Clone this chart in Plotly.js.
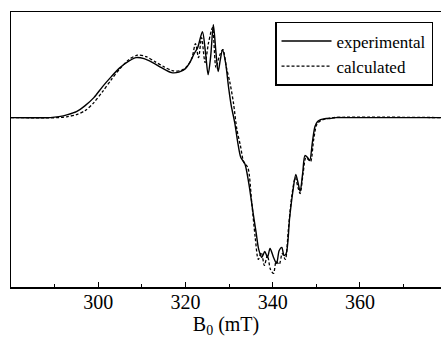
<!DOCTYPE html>
<html>
<head>
<meta charset="utf-8">
<script src="https://cdn.plot.ly/plotly-3.0.1.min.js"></script>
<style>html,body{margin:0;padding:0;background:#fff;}#chart{width:441px;height:338px;}</style>
</head>
<body>
<div id="chart"></div>
<script>
// Field values (mT) and signal (arbitrary units, baseline = 0)
const expField = [280, 289, 291, 293, 295, 297, 299, 301, 303, 305, 307, 308.7, 310.5, 312.5, 314.5, 316.8, 318.5, 320, 321, 322, 322.8, 323.9, 324.6, 325.2, 325.8, 326.4, 327, 327.5, 328, 328.5, 329.2, 329.9, 330.5, 331.3, 332, 332.7, 333.6, 334.5, 335.5, 336.2, 336.8, 337.5, 338.2, 338.8, 339.4, 340.2, 340.9, 341.5, 342.1, 342.6, 343.1, 343.9, 344.6, 345.3, 345.8, 346.3, 346.9, 347.4, 348, 348.5, 349.1, 349.7, 350.3, 351, 352, 353.1, 354.5, 356, 378.6];
const expSignal = [0, 0, 0.01, 0.03, 0.06, 0.12, 0.2, 0.31, 0.41, 0.5, 0.565, 0.60, 0.59, 0.55, 0.5, 0.45, 0.455, 0.49, 0.55, 0.64, 0.70, 0.86, 0.65, 0.43, 0.62, 0.93, 0.65, 0.46, 0.58, 0.68, 0.55, 0.3, 0.12, -0.05, -0.25, -0.40, -0.46, -0.65, -0.95, -1.15, -1.32, -1.40, -1.34, -1.40, -1.31, -1.40, -1.46, -1.33, -1.30, -1.38, -1.36, -1.0, -0.75, -0.57, -0.65, -0.74, -0.55, -0.38, -0.40, -0.43, -0.25, -0.09, -0.04, -0.02, -0.01, -0.01, 0, 0, 0];

const calcField = [280, 291, 293, 295, 297, 299, 301, 303, 305, 307, 309, 311, 313, 315, 317, 319, 320.5, 321.5, 322.3, 323, 323.7, 324.5, 325.3, 326.2, 327, 327.8, 328.6, 329.4, 330.2, 331, 331.8, 332.6, 333.4, 334.3, 335.2, 336, 336.7, 337.4, 338.1, 338.8, 339.5, 340.2, 340.8, 341.5, 342.2, 342.9, 343.6, 344.4, 345.2, 345.8, 346.3, 347, 347.6, 348.2, 348.7, 349.4, 350.1, 351, 352.5, 354, 378.6];
const calcSignal = [0, 0, 0.01, 0.03, 0.07, 0.15, 0.26, 0.38, 0.49, 0.58, 0.625, 0.61, 0.56, 0.51, 0.47, 0.47, 0.52, 0.60, 0.74, 0.60, 0.80, 0.55, 0.75, 0.90, 0.50, 0.62, 0.68, 0.50, 0.35, 0.15, -0.12, -0.28, -0.45, -0.50, -0.85, -1.20, -1.42, -1.35, -1.48, -1.38, -1.52, -1.56, -1.44, -1.47, -1.36, -1.42, -1.12, -0.78, -0.60, -0.70, -0.76, -0.55, -0.40, -0.42, -0.44, -0.22, -0.07, -0.03, -0.01, 0, 0];

const seriesNames = ['experimental', 'calculated'];
const majorTicks = [300, 320, 340, 360];
const minorTicks = [290, 310, 330, 350, 370];

const serif = 'Liberation Serif, Times New Roman, serif';

const traces = [
  {x: expField, y: expSignal, name: seriesNames[0], mode: 'lines',
   line: {color: '#000', width: 1.4, shape: 'spline', smoothing: 0.8}},
  {x: calcField, y: calcSignal, name: seriesNames[1], mode: 'lines',
   line: {color: '#000', width: 1.3, dash: '3px,2px', shape: 'spline', smoothing: 0.8}}
];

const layout = {
  width: 441, height: 338,
  margin: {l: 11, r: 0, t: 12, b: 51},
  paper_bgcolor: '#fff', plot_bgcolor: '#fff',
  font: {family: serif, color: '#000'},
  showlegend: true,
  legend: {x: 0.614, y: 0.964, xanchor: 'left', yanchor: 'top',
           bordercolor: '#000', borderwidth: 1.5, bgcolor: '#fff',
           itemwidth: 50,
           font: {family: serif, size: 17, color: '#000'}, tracegroupgap: 0},
  xaxis: {range: [280, 378.6], showgrid: false, zeroline: false,
          showline: true, linecolor: '#000', linewidth: 1.5, mirror: true,
          ticks: 'inside', ticklen: 5, tickcolor: '#000',
          tickmode: 'array', tickvals: majorTicks, ticktext: majorTicks.map(String),
          minor: {tickmode: 'array', tickvals: minorTicks, ticks: 'inside', ticklen: 3, tickcolor: '#000'},
          tickfont: {family: serif, size: 20, color: '#000'}, ticklabelstandoff: -4,
          title: {text: 'B<sub>0</sub> (mT)', font: {family: serif, size: 20, color: '#000'}, standoff: 8}},
  yaxis: {range: [-1.696, 1.057], showgrid: false, zeroline: false,
          showline: true, linecolor: '#000', linewidth: 1.5,
          ticks: '', showticklabels: false}
};

Plotly.newPlot('chart', traces, layout, {displayModeBar: false, staticPlot: true});
</script>
</body>
</html>
